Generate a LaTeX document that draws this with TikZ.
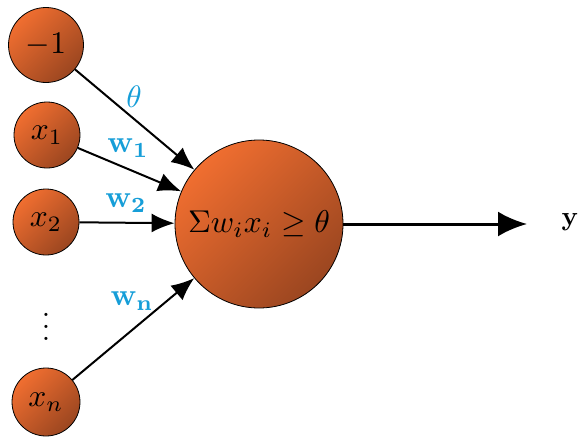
\documentclass[tikz,border=0pt]{standalone}
\usetikzlibrary{arrows.meta}
\definecolor{lightor}{RGB}{240,110,48}
\definecolor{darkor}{RGB}{155,70,32}
\definecolor{lblue}{RGB}{22,158,216}
\newcommand{\sbig}[1]{\scalebox{3.15}{#1}}
\newcommand{\slab}[1]{\scalebox{3.1}{#1}}
\begin{document}
\begin{tikzpicture}[x=1pt,y=-1pt,
  neuron/.style={circle,draw=black,line width=0.8pt,inner sep=0pt,
    shading=axis,top color=lightor,bottom color=darkor,shading angle=45},
  inarrow/.style={line width=2pt,-{Latex[length=23pt,width=19pt]}},
  wlabel/.style={text=lblue}]
\useasboundingbox (0,0) rectangle (582,437);
\node[neuron,minimum size=75pt] (m1) at (46,45) {\sbig{$-1$}};
\node[neuron,minimum size=66pt] (x1) at (47,135) {\sbig{$x_1$}};
\node[neuron,minimum size=66pt] (x2) at (46,222) {\sbig{$x_2$}};
\node (dots) at (46,318) {\scalebox{3}{$\vdots$}};
\node[neuron,minimum size=68pt] (xn) at (46,402) {\sbig{$x_n$}};
\node[neuron,minimum size=168pt] (sum) at (259,224) {\sbig{$\Sigma w_i x_i \geq \theta$}};
\coordinate (out) at (527,224);
\node (y) at (570,222) {\scalebox{2.7}{$\mathbf{y}$}};
\draw[inarrow] (m1) -- (sum);
\draw[inarrow] (x1) -- (sum);
\draw[inarrow] (x2) -- (sum);
\draw[inarrow] (xn) -- (sum);
\draw[line width=3pt,-{Latex[length=29pt,width=25pt]}] (sum) -- (out);
\node[wlabel] (lt) at (134,97) {\slab{$\theta$}};
\node[wlabel] (l1) at (128,148) {\slab{$\mathbf{w_1}$}};
\node[wlabel] (l2) at (126,203) {\slab{$\mathbf{w_2}$}};
\node[wlabel] (ln) at (132,301) {\slab{$\mathbf{w_n}$}};
\end{tikzpicture}
\end{document}
